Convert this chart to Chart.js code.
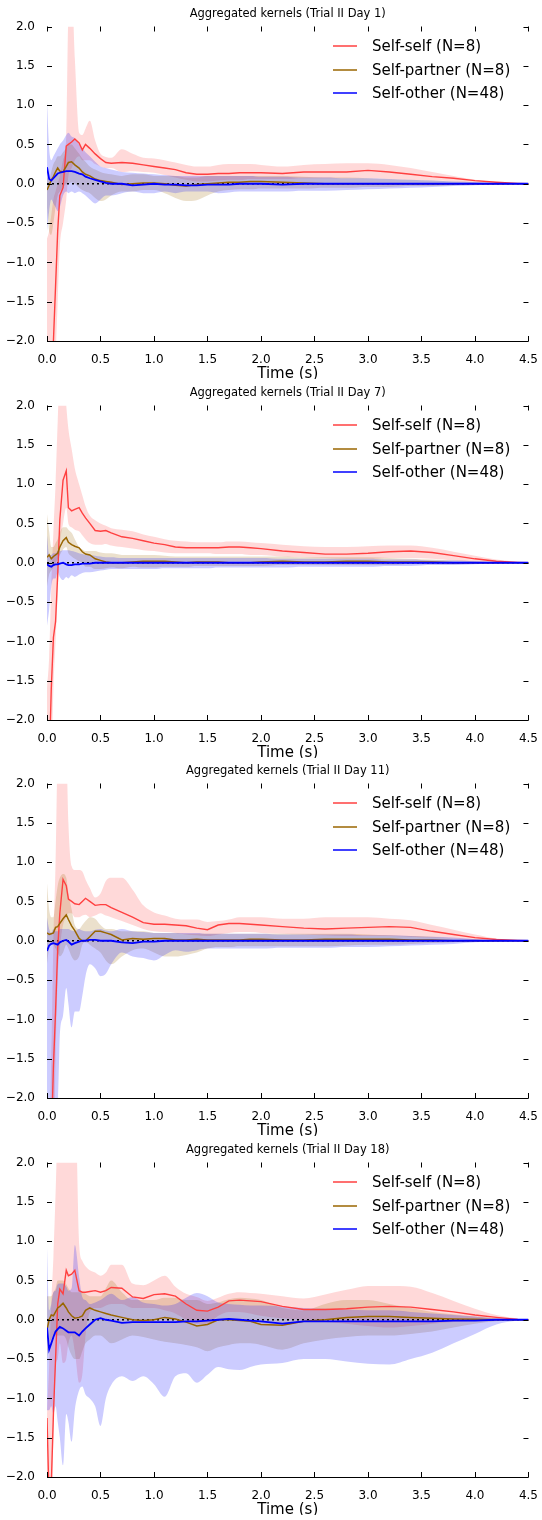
<!DOCTYPE html>
<html>
<head>
<meta charset="utf-8">
<script src="https://cdn.jsdelivr.net/npm/chart.js@4.4.1/dist/chart.umd.min.js"></script>
<style>
html, body { margin: 0; padding: 0; background: #fff; }
body { width: 542px; height: 1520px; position: relative; overflow: hidden; }
.panel { position: absolute; left: 0; width: 542px; height: 379px; }
</style>
</head>
<body>
<div class="panel" style="top:0px"><canvas id="c0" width="542" height="379"></canvas></div>
<div class="panel" style="top:379px"><canvas id="c1" width="542" height="379"></canvas></div>
<div class="panel" style="top:757px"><canvas id="c2" width="542" height="379"></canvas></div>
<div class="panel" style="top:1136px"><canvas id="c3" width="542" height="379"></canvas></div>
<script>
// time axis (s), shared by every series
var TIME = [0, 0.02, 0.04, 0.06, 0.08, 0.1, 0.12, 0.15, 0.18, 0.2,
  0.23, 0.26, 0.3, 0.33, 0.36, 0.4, 0.45, 0.5, 0.55, 0.6,
  0.7, 0.8, 0.9, 1.0, 1.1, 1.2, 1.3, 1.4, 1.5, 1.6, 1.7, 1.8, 1.9,
  2.0, 2.2, 2.4, 2.6, 2.8, 3.0, 3.2, 3.4, 3.6, 3.8, 4.0, 4.2, 4.4, 4.5];

var X_TICKS = [0, 0.5, 1, 1.5, 2, 2.5, 3, 3.5, 4, 4.5];
var Y_TICKS = [-2, -1.5, -1, -0.5, 0, 0.5, 1, 1.5, 2];
var SERIES = ['Self-self (N=8)', 'Self-partner (N=8)', 'Self-other (N=48)'];
var TITLES = ['Aggregated kernels (Trial II Day 1)', 'Aggregated kernels (Trial II Day 7)',
  'Aggregated kernels (Trial II Day 11)', 'Aggregated kernels (Trial II Day 18)'];

// ---- Day 1 ----
var d1SelfMean = [-3, -3, -2.6, -2.0, -1.3, -0.6, -0.15, -0.05, 0.48, 0.5,
  0.53, 0.57, 0.52, 0.43, 0.5, 0.45, 0.38, 0.32, 0.27, 0.26,
  0.27, 0.26, 0.24, 0.22, 0.2, 0.18, 0.14, 0.12, 0.12, 0.13, 0.13, 0.14, 0.14,
  0.14, 0.13, 0.15, 0.15, 0.15, 0.17, 0.15, 0.12, 0.09, 0.07, 0.04, 0.02, 0.005, 0];
var d1SelfLo = [-3, -3, -3, -2.8, -2.2, -1.5, -0.8, -0.5, -0.2, 0.1,
  0.2, 0.3, 0.35, 0.3, 0.3, 0.3, 0.25, 0.22, 0.2, 0.2,
  0.15, 0.16, 0.15, 0.14, 0.11, 0.08, 0.05, 0.03, 0.03, 0.04, 0.05, 0.05, 0.06,
  0.06, 0.06, 0.07, 0.07, 0.07, 0.07, 0.06, 0.05, 0.04, 0.03, 0.015, 0.005, 0.002, 0];
var d1SelfHi = [-0.7, -0.6, -0.4, -0.2, -0.1, 0.0, 0.1, 0.3, 0.6, 2.2,
  2.5, 1.6, 0.65, 0.62, 0.7, 0.8, 0.55, 0.38, 0.34, 0.33,
  0.44, 0.38, 0.33, 0.32, 0.3, 0.27, 0.24, 0.22, 0.22, 0.24, 0.25, 0.25, 0.25,
  0.24, 0.22, 0.24, 0.25, 0.26, 0.26, 0.24, 0.2, 0.15, 0.1, 0.05, 0.02, 0.005, 0];
var d1PartMean = [-0.08, -0.02, 0.05, 0.09, 0.15, 0.2, 0.16, 0.15, 0.22, 0.27,
  0.28, 0.24, 0.2, 0.15, 0.12, 0.1, 0.06, 0.04, 0.03, 0.02,
  -0.01, 0.0, 0.01, 0.01, 0.0, -0.02, -0.03, -0.01, 0.0, 0.01, 0.02, 0.02, 0.03,
  0.03, 0.02, 0.01, 0.0, 0.0, 0.0, 0.0, 0.0, 0.0, 0.0, 0.0, 0.0, 0.0, 0];
var d1PartLo = [-0.3, -0.6, -0.65, -0.5, -0.3, -0.15, -0.1, -0.05, 0.0, 0.0,
  0.02, 0.0, -0.05, -0.08, -0.1, -0.12, -0.18, -0.22, -0.2, -0.15,
  -0.1, -0.1, -0.08, -0.08, -0.12, -0.18, -0.22, -0.21, -0.15, -0.1, -0.08, -0.07, -0.07,
  -0.06, -0.06, -0.06, -0.05, -0.05, -0.04, -0.04, -0.03, -0.03, -0.02, -0.01, -0.005, 0];
var d1PartHi = [0.1, 0.05, 0.15, 0.25, 0.3, 0.35, 0.35, 0.4, 0.45, 0.5,
  0.5, 0.45, 0.38, 0.32, 0.28, 0.22, 0.18, 0.15, 0.13, 0.12,
  0.1, 0.12, 0.12, 0.1, 0.1, 0.1, 0.08, 0.08, 0.1, 0.1, 0.1, 0.1, 0.1,
  0.1, 0.1, 0.09, 0.08, 0.08, 0.07, 0.06, 0.05, 0.04, 0.03, 0.02, 0.005, 0];
var d1OtherMean = [0.21, 0.06, 0.04, 0.07, 0.1, 0.13, 0.14, 0.15, 0.16, 0.16,
  0.16, 0.15, 0.13, 0.12, 0.09, 0.07, 0.05, 0.03, 0.01, 0.0,
  0.0, -0.02, -0.01, 0.0, -0.01, -0.01, -0.02, -0.02, -0.01, -0.01, -0.01, 0.0, 0.0,
  0.0, -0.01, 0.0, 0.0, 0.0, 0.0, 0.0, 0.0, 0.0, 0.0, 0.0, 0.0, 0.0, 0];
var d1OtherLo = [-0.6, -0.35, -0.2, -0.25, -0.3, -0.35, -0.3, -0.15, -0.1, -0.12,
  -0.1, -0.12, -0.1, -0.12, -0.15, -0.2, -0.25, -0.2, -0.15, -0.15,
  -0.12, -0.1, -0.12, -0.12, -0.1, -0.12, -0.1, -0.1, -0.1, -0.12, -0.11, -0.1, -0.1,
  -0.1, -0.1, -0.09, -0.09, -0.08, -0.07, -0.06, -0.05, -0.04, -0.03, -0.02, -0.005, 0];
var d1OtherHi = [1.05, 0.45, 0.3, 0.35, 0.4, 0.45, 0.5, 0.55, 0.62, 0.65,
  0.6, 0.58, 0.5, 0.45, 0.4, 0.35, 0.28, 0.22, 0.2, 0.18,
  0.15, 0.14, 0.13, 0.12, 0.11, 0.1, 0.1, 0.1, 0.1, 0.1, 0.1, 0.1, 0.1,
  0.09, 0.09, 0.08, 0.08, 0.07, 0.07, 0.06, 0.05, 0.04, 0.03, 0.02, 0.005, 0];

// ---- Day 7 ----
var d7SelfMean = [-3, -2.6, -1.6, -0.95, -0.75, -0.15, 0.55, 1.05, 1.17, 0.7,
  0.66, 0.68, 0.7, 0.63, 0.57, 0.5, 0.41, 0.4, 0.41, 0.38,
  0.33, 0.31, 0.28, 0.25, 0.23, 0.2, 0.19, 0.19, 0.19, 0.19, 0.2, 0.2, 0.19,
  0.18, 0.15, 0.13, 0.11, 0.11, 0.12, 0.14, 0.15, 0.13, 0.09, 0.05, 0.02, 0.005, 0];
var d7SelfLo = [-3, -3, -2.6, -1.6, -1.0, -0.4, 0.2, 0.5, 0.7, 0.5,
  0.45, 0.42, 0.4, 0.35, 0.3, 0.25, 0.23, 0.23, 0.24, 0.22,
  0.2, 0.18, 0.16, 0.15, 0.13, 0.12, 0.12, 0.12, 0.12, 0.11, 0.11, 0.11, 0.1,
  0.1, 0.08, 0.07, 0.06, 0.05, 0.05, 0.06, 0.06, 0.05, 0.03, 0.015, 0.005, 0.002, 0];
var d7SelfHi = [-1.6, -1.2, -0.3, 0.4, 1.0, 1.8, 2.5, 2.6, 2.0, 1.7,
  1.45, 1.2, 1.0, 0.86, 0.72, 0.6, 0.54, 0.5, 0.47, 0.44,
  0.42, 0.4, 0.36, 0.33, 0.3, 0.28, 0.27, 0.26, 0.26, 0.26, 0.27, 0.27, 0.26,
  0.25, 0.23, 0.21, 0.2, 0.2, 0.21, 0.22, 0.22, 0.19, 0.14, 0.09, 0.04, 0.01, 0];
var d7PartMean = [0.07, 0.1, 0.05, 0.08, 0.1, 0.12, 0.2, 0.28, 0.32, 0.26,
  0.23, 0.21, 0.19, 0.14, 0.11, 0.1, 0.05, 0.03, 0.01, 0.0,
  0.0, 0.01, 0.02, 0.02, 0.02, 0.01, 0.0, 0.01, 0.01, 0.01, 0.0, 0.0, 0.0,
  0.01, 0.02, 0.01, 0.01, 0.02, 0.02, 0.01, 0.01, 0.01, 0.0, 0.0, 0.0, 0.0, 0];
var d7PartLo = [-0.3, -0.15, -0.1, -0.05, 0.0, 0.05, 0.1, 0.17, 0.2, 0.12,
  0.08, 0.05, 0.02, 0.0, -0.05, -0.05, -0.08, -0.08, -0.07, -0.06,
  -0.07, -0.05, -0.06, -0.06, -0.05, -0.05, -0.05, -0.04, -0.04, -0.04, -0.04, -0.04, -0.04,
  -0.04, -0.03, -0.03, -0.03, -0.03, -0.03, -0.03, -0.02, -0.02, -0.02, -0.01, -0.005, 0];
var d7PartHi = [0.62, 0.4, 0.2, 0.2, 0.25, 0.3, 0.38, 0.45, 0.45, 0.42,
  0.38, 0.3, 0.2, 0.17, 0.15, 0.15, 0.15, 0.13, 0.12, 0.12,
  0.1, 0.1, 0.1, 0.1, 0.09, 0.08, 0.08, 0.08, 0.08, 0.08, 0.08, 0.08, 0.08,
  0.08, 0.08, 0.07, 0.07, 0.07, 0.07, 0.06, 0.05, 0.04, 0.03, 0.02, 0.005, 0];
var d7OtherMean = [-0.02, -0.04, -0.05, -0.03, -0.02, -0.02, -0.01, 0.0, -0.02, -0.03,
  -0.03, -0.02, -0.02, -0.01, -0.01, -0.01, 0.0, 0.0, 0.0, 0.0,
  0.0, 0.0, 0.0, 0.0, 0.0, 0.0, 0.0, 0.0, 0.0, 0.0, 0.0, 0.0, 0.0,
  0.0, 0.0, 0.0, 0.0, 0.0, 0.0, 0.0, 0.0, 0.0, 0.0, 0.0, 0.0, 0.0, 0];
var d7OtherLo = [-0.8, -0.6, -0.3, -0.2, -0.2, -0.12, -0.18, -0.22, -0.18, -0.2,
  -0.16, -0.18, -0.15, -0.13, -0.12, -0.12, -0.11, -0.1, -0.09, -0.08,
  -0.08, -0.08, -0.08, -0.08, -0.07, -0.07, -0.07, -0.07, -0.07, -0.06, -0.06, -0.06, -0.06,
  -0.06, -0.06, -0.05, -0.05, -0.05, -0.05, -0.04, -0.04, -0.03, -0.03, -0.02, -0.005, 0];
var d7OtherHi = [0.35, 0.1, 0.1, 0.12, 0.12, 0.15, 0.15, 0.16, 0.16, 0.16,
  0.15, 0.14, 0.12, 0.11, 0.1, 0.1, 0.09, 0.08, 0.07, 0.07,
  0.06, 0.06, 0.06, 0.06, 0.06, 0.06, 0.06, 0.06, 0.06, 0.06, 0.06, 0.06, 0.06,
  0.06, 0.05, 0.05, 0.05, 0.05, 0.05, 0.04, 0.04, 0.03, 0.03, 0.02, 0.005, 0];

// ---- Day 11 ----
var d11SelfMean = [-3, -3, -2.6, -1.6, -0.9, -0.1, 0.35, 0.78, 0.7, 0.53,
  0.5, 0.47, 0.46, 0.5, 0.54, 0.5, 0.45, 0.46, 0.46, 0.42,
  0.36, 0.3, 0.23, 0.21, 0.21, 0.2, 0.19, 0.16, 0.14, 0.2, 0.22, 0.22, 0.21,
  0.2, 0.18, 0.16, 0.15, 0.16, 0.17, 0.18, 0.17, 0.12, 0.08, 0.04, 0.015, 0.003, 0];
var d11SelfLo = [-3, -3, -3, -3, -1.5, -0.5, -0.1, 0.2, 0.3, 0.35,
  0.35, 0.3, 0.3, 0.32, 0.33, 0.3, 0.32, 0.35, 0.32, 0.3,
  0.25, 0.2, 0.15, 0.12, 0.11, 0.1, 0.08, 0.07, 0.06, 0.08, 0.1, 0.11, 0.11,
  0.1, 0.09, 0.08, 0.07, 0.06, 0.06, 0.06, 0.05, 0.04, 0.03, 0.01, 0.003, 0.001, 0];
var d11SelfHi = [-2.5, -2.5, -1.5, 0.0, 1.0, 2.5, 3.0, 3.0, 2.5, 1.5,
  0.95, 0.9, 0.9, 0.88, 0.78, 0.67, 0.55, 0.6, 0.76, 0.8,
  0.8, 0.65, 0.45, 0.36, 0.32, 0.28, 0.27, 0.27, 0.24, 0.25, 0.27, 0.3, 0.3,
  0.3, 0.28, 0.28, 0.3, 0.3, 0.3, 0.28, 0.26, 0.2, 0.14, 0.08, 0.03, 0.01, 0];
var d11PartMean = [0.1, 0.08, 0.09, 0.1, 0.17, 0.18, 0.22, 0.28, 0.33, 0.27,
  0.19, 0.13, 0.03, 0.0, 0.0, 0.05, 0.12, 0.12, 0.1, 0.08,
  0.01, 0.03, 0.02, 0.03, 0.03, 0.01, 0.01, 0.02, 0.01, 0.01, 0.01, 0.01, 0.02,
  0.02, 0.01, 0.01, 0.02, 0.02, 0.02, 0.02, 0.01, 0.01, 0.0, 0.0, 0.0, 0.0, 0];
var d11PartLo = [-0.3, -0.1, -0.05, -0.05, -0.1, -0.15, -0.2, -0.15, -0.05, -0.1,
  -0.2, -0.25, -0.2, -0.05, -0.02, -0.05, -0.1, -0.15, -0.25, -0.3,
  -0.2, -0.12, -0.1, -0.15, -0.2, -0.2, -0.18, -0.15, -0.1, -0.08, -0.08, -0.07, -0.07,
  -0.07, -0.07, -0.07, -0.07, -0.06, -0.05, -0.05, -0.04, -0.03, -0.02, -0.01, -0.005, 0];
var d11PartHi = [0.73, 0.4, 0.3, 0.3, 0.5, 0.7, 0.8, 0.85, 0.8, 0.6,
  0.4, 0.2, 0.15, 0.2, 0.25, 0.3, 0.28, 0.2, 0.15, 0.15,
  0.12, 0.12, 0.12, 0.1, 0.1, 0.1, 0.09, 0.09, 0.09, 0.09, 0.09, 0.09, 0.09,
  0.09, 0.09, 0.09, 0.09, 0.09, 0.08, 0.07, 0.06, 0.05, 0.03, 0.02, 0.005, 0];
var d11OtherMean = [-0.13, -0.06, -0.04, -0.03, -0.04, -0.05, -0.02, 0.0, 0.01, -0.01,
  -0.05, -0.03, -0.01, 0.0, 0.0, 0.01, 0.01, 0.0, 0.0, 0.0,
  -0.02, -0.03, -0.01, -0.01, 0.0, 0.0, 0.0, 0.0, 0.0, 0.0, 0.0, 0.0, 0.0,
  0.0, 0.0, 0.0, 0.0, 0.0, 0.0, 0.0, 0.0, 0.0, 0.0, 0.0, 0.0, 0.0, 0];
var d11OtherLo = [-2.2, -2.4, -2.5, -2.5, -2.2, -2.1, -1.2, -0.95, -0.6, -0.8,
  -1.1, -0.9, -0.9, -0.7, -0.45, -0.3, -0.35, -0.45, -0.42, -0.3,
  -0.15, -0.2, -0.22, -0.25, -0.18, -0.12, -0.14, -0.12, -0.1, -0.1, -0.1, -0.1, -0.1,
  -0.1, -0.09, -0.09, -0.09, -0.08, -0.08, -0.07, -0.06, -0.05, -0.04, -0.02, -0.005, 0];
var d11OtherHi = [0.3, 0.15, 0.1, 0.15, 0.12, 0.12, 0.15, 0.15, 0.15, 0.15,
  0.13, 0.12, 0.15, 0.13, 0.12, 0.12, 0.14, 0.15, 0.13, 0.12,
  0.15, 0.12, 0.11, 0.1, 0.1, 0.1, 0.1, 0.1, 0.09, 0.09, 0.09, 0.09, 0.09,
  0.09, 0.08, 0.08, 0.08, 0.08, 0.07, 0.07, 0.06, 0.05, 0.04, 0.02, 0.005, 0];

// ---- Day 18 ----
var d18SelfMean = [-1.25, -2.3, -2.1, -1.2, -0.5, 0.2, 0.39, 0.33, 0.63, 0.56,
  0.58, 0.63, 0.37, 0.35, 0.35, 0.36, 0.37, 0.35, 0.37, 0.41,
  0.4, 0.29, 0.27, 0.32, 0.33, 0.3, 0.2, 0.12, 0.11, 0.16, 0.24, 0.25, 0.24,
  0.23, 0.17, 0.13, 0.13, 0.14, 0.16, 0.17, 0.16, 0.13, 0.1, 0.06, 0.03, 0.005, 0];
var d18SelfLo = [-3, -3, -2.5, -1.5, -0.6, -0.5, -0.3, -0.55, -0.5, -0.3,
  -0.2, -0.4, -0.8, -0.7, -0.2, 0.1, 0.15, 0.15, 0.18, 0.2,
  0.2, 0.15, 0.15, 0.15, 0.12, 0.08, 0.0, -0.05, -0.05, 0.05, 0.1, 0.1, 0.08,
  0.05, 0.02, 0.0, -0.03, -0.05, -0.08, -0.1, -0.08, -0.05, -0.03, -0.01, -0.003, 0];
var d18SelfHi = [-1.2, -0.6, 0.2, 0.8, 1.6, 2.5, 3.0, 3.0, 3.0, 3.0,
  3.0, 3.0, 0.97, 0.75, 0.68, 0.63, 0.6, 0.56, 0.6, 0.7,
  0.7, 0.46, 0.44, 0.5, 0.56, 0.42, 0.33, 0.29, 0.24, 0.28, 0.33, 0.35, 0.34,
  0.33, 0.3, 0.27, 0.32, 0.38, 0.43, 0.43, 0.42, 0.34, 0.24, 0.14, 0.06, 0.015, 0];
var d18PartMean = [-0.13, 0.0, 0.06, 0.05, 0.1, 0.15, 0.17, 0.21, 0.15, 0.1,
  0.05, 0.02, 0.03, 0.05, 0.12, 0.15, 0.12, 0.1, 0.08, 0.06,
  0.03, 0.0, -0.01, 0.0, 0.03, 0.01, -0.03, -0.08, -0.06, 0.0, 0.0, -0.01, -0.02,
  -0.06, -0.07, -0.02, 0.0, 0.03, 0.04, 0.04, 0.03, 0.02, 0.01, 0.005, 0.0, 0.0, 0];
var d18PartLo = [-0.5, -0.3, -0.25, -0.2, -0.2, -0.2, -0.2, -0.2, -0.25, -0.35,
  -0.45, -0.5, -0.5, -0.4, -0.3, -0.25, -0.2, -0.2, -0.25, -0.3,
  -0.25, -0.2, -0.22, -0.25, -0.28, -0.3, -0.32, -0.35, -0.4, -0.35, -0.32, -0.3, -0.3,
  -0.32, -0.38, -0.3, -0.25, -0.22, -0.2, -0.2, -0.18, -0.15, -0.1, -0.05, -0.02, -0.005, 0];
var d18PartHi = [0.3, 0.3, 0.3, 0.35, 0.4, 0.5, 0.5, 0.5, 0.45, 0.4,
  0.35, 0.35, 0.35, 0.35, 0.33, 0.3, 0.3, 0.3, 0.4, 0.5,
  0.35, 0.25, 0.25, 0.25, 0.28, 0.28, 0.25, 0.25, 0.2, 0.22, 0.26, 0.28, 0.27,
  0.25, 0.15, 0.12, 0.2, 0.25, 0.25, 0.2, 0.15, 0.1, 0.07, 0.04, 0.02, 0.005, 0];
var d18OtherMean = [-0.1, -0.38, -0.3, -0.22, -0.15, -0.12, -0.09, -0.11, -0.14, -0.16,
  -0.16, -0.16, -0.2, -0.15, -0.11, -0.06, 0.0, 0.02, 0.0, -0.01,
  -0.04, -0.03, -0.03, -0.03, -0.03, -0.03, -0.02, -0.02, -0.01, 0.0, 0.01, 0.0, -0.01,
  -0.02, -0.05, -0.02, -0.02, -0.02, -0.02, -0.02, -0.02, -0.02, -0.01, -0.01, 0.0, 0.0, 0];
var d18OtherLo = [-1.15, -1.15, -1.1, -1.2, -1.1, -1.3, -1.5, -1.85, -1.2, -1.3,
  -1.55, -1.15, -0.9, -0.85, -0.95, -1.0, -1.1, -1.35, -1.0, -0.83,
  -0.72, -0.78, -0.72, -0.82, -0.98, -0.72, -0.68, -0.8, -0.7, -0.6, -0.63, -0.64, -0.6,
  -0.57, -0.55, -0.5, -0.5, -0.53, -0.56, -0.57, -0.5, -0.42, -0.3, -0.18, -0.06, -0.01, 0];
var d18OtherHi = [0.92, 0.12, 0.2, 0.35, 0.37, 0.45, 0.46, 0.46, 0.42, 0.37,
  0.4, 0.95, 0.55, 0.29, 0.25, 0.2, 0.22, 0.25, 0.3, 0.33,
  0.25, 0.29, 0.22, 0.2, 0.18, 0.2, 0.28, 0.34, 0.3, 0.22, 0.2, 0.19, 0.18,
  0.18, 0.17, 0.15, 0.14, 0.13, 0.12, 0.12, 0.1, 0.08, 0.06, 0.04, 0.015, 0.003, 0];

var panels = [
  [[d1SelfMean, d1SelfLo, d1SelfHi], [d1PartMean, d1PartLo, d1PartHi], [d1OtherMean, d1OtherLo, d1OtherHi]],
  [[d7SelfMean, d7SelfLo, d7SelfHi], [d7PartMean, d7PartLo, d7PartHi], [d7OtherMean, d7OtherLo, d7OtherHi]],
  [[d11SelfMean, d11SelfLo, d11SelfHi], [d11PartMean, d11PartLo, d11PartHi], [d11OtherMean, d11OtherLo, d11OtherHi]],
  [[d18SelfMean, d18SelfLo, d18SelfHi], [d18PartMean, d18PartLo, d18PartHi], [d18OtherMean, d18OtherLo, d18OtherHi]]
];

var LINE_COLORS = ['rgb(255,64,64)', 'rgb(153,102,0)', 'rgb(0,0,255)'];
var BAND_COLORS = ['rgba(255,64,64,0.2)', 'rgba(153,102,0,0.2)', 'rgba(0,0,255,0.2)'];
var LINE_WIDTHS = [1.4, 1.5, 1.8];
var FONT = '"DejaVu Sans", sans-serif';

function pts(arr) {
  return TIME.map(function(t, i) { return {x: t, y: arr[i]}; });
}

function fmt(v) {
  var s = Math.abs(v).toFixed(1);
  return v < 0 ? '\u2212' + s : s;
}

// title, axis label, legend, inward ticks and bottom spine
var decor = {
  id: 'decor',
  afterDatasetsDraw: function(chart) {
    var ctx = chart.ctx, a = chart.chartArea;
    var xs = chart.scales.x, ys = chart.scales.y;
    ctx.save();
    ctx.strokeStyle = '#000';
    ctx.lineWidth = 1;
    ctx.beginPath();
    ctx.moveTo(a.left, a.bottom + 0.5);
    ctx.lineTo(a.right, a.bottom + 0.5);
    X_TICKS.forEach(function(v) {
      var x = Math.round(xs.getPixelForValue(v)) + 0.5;
      ctx.moveTo(x, a.bottom); ctx.lineTo(x, a.bottom - 5);
      ctx.moveTo(x, a.top); ctx.lineTo(x, a.top + 5);
    });
    Y_TICKS.forEach(function(v) {
      var y = Math.round(ys.getPixelForValue(v)) + 0.5;
      ctx.moveTo(a.left, y); ctx.lineTo(a.left + 5, y);
      ctx.moveTo(a.right, y); ctx.lineTo(a.right - 5, y);
    });
    ctx.stroke();

    var cx = (a.left + a.right) / 2;
    ctx.fillStyle = '#000';
    ctx.textAlign = 'center';
    ctx.textBaseline = 'middle';
    ctx.font = '11.5px ' + FONT;
    ctx.fillText(chart.options.plugins.decor.title, cx, 14);
    ctx.font = '15px ' + FONT;
    ctx.fillText('Time (s)', cx, 374.5);

    ctx.textAlign = 'left';
    var rows = [46, 70, 93];
    SERIES.forEach(function(name, k) {
      ctx.globalAlpha = 0.75;
      ctx.strokeStyle = LINE_COLORS[k];
      ctx.lineWidth = 2;
      ctx.beginPath();
      ctx.moveTo(333, rows[k]); ctx.lineTo(357, rows[k]);
      ctx.stroke();
      ctx.globalAlpha = 1;
      ctx.fillText(name, 372, rows[k] + 1);
    });
    ctx.restore();
  }
};

panels.forEach(function(panel, p) {
  var datasets = [];
  var bandOrder = [6, 5, 4];
  panel.forEach(function(s, k) {
    datasets.push({
      data: pts(s[2]), fill: '+1', backgroundColor: BAND_COLORS[k],
      borderColor: 'rgba(0,0,0,0)', borderWidth: 0, pointRadius: 0,
      cubicInterpolationMode: 'monotone', order: bandOrder[k]
    });
    datasets.push({
      data: pts(s[1]), fill: false,
      borderColor: 'rgba(0,0,0,0)', borderWidth: 0, pointRadius: 0,
      cubicInterpolationMode: 'monotone', order: bandOrder[k]
    });
  });
  datasets.push({
    data: [{x: 0, y: 0}, {x: 4.5, y: 0}], fill: false,
    borderColor: '#000', borderWidth: 1.6, borderDash: [2, 3],
    pointRadius: 0, order: 3
  });
  panel.forEach(function(s, k) {
    datasets.push({
      label: SERIES[k], data: pts(s[0]), fill: false,
      borderColor: LINE_COLORS[k], borderWidth: LINE_WIDTHS[k],
      pointRadius: 0, order: 2 - k
    });
  });

  new Chart(document.getElementById('c' + p), {
    type: 'line',
    data: { datasets: datasets },
    options: {
      responsive: false,
      animation: false,
      devicePixelRatio: 1,
      layout: { padding: { top: 26.5, right: 1.5, left: 0, bottom: 0 } },
      plugins: {
        legend: { display: false },
        tooltip: { enabled: false },
        decor: { title: TITLES[p] }
      },
      scales: {
        x: {
          type: 'linear', min: 0, max: 4.5,
          grid: { display: false },
          border: { display: false },
          afterFit: function(s) { s.height = 38; },
          afterBuildTicks: function(s) { s.ticks = X_TICKS.map(function(v) { return {value: v}; }); },
          ticks: {
            autoSkip: false, maxRotation: 0, padding: 4, color: '#000',
            font: { family: FONT, size: 12 },
            callback: function(v) { return fmt(v); }
          }
        },
        y: {
          min: -2, max: 2,
          grid: { display: false },
          border: { display: false },
          afterFit: function(s) { s.width = 47; },
          afterBuildTicks: function(s) { s.ticks = Y_TICKS.map(function(v) { return {value: v}; }); },
          ticks: {
            padding: 4, color: '#000',
            font: { family: FONT, size: 12 },
            callback: function(v) { return fmt(v); }
          }
        }
      }
    },
    plugins: [decor]
  });
});
</script>
</body>
</html>
